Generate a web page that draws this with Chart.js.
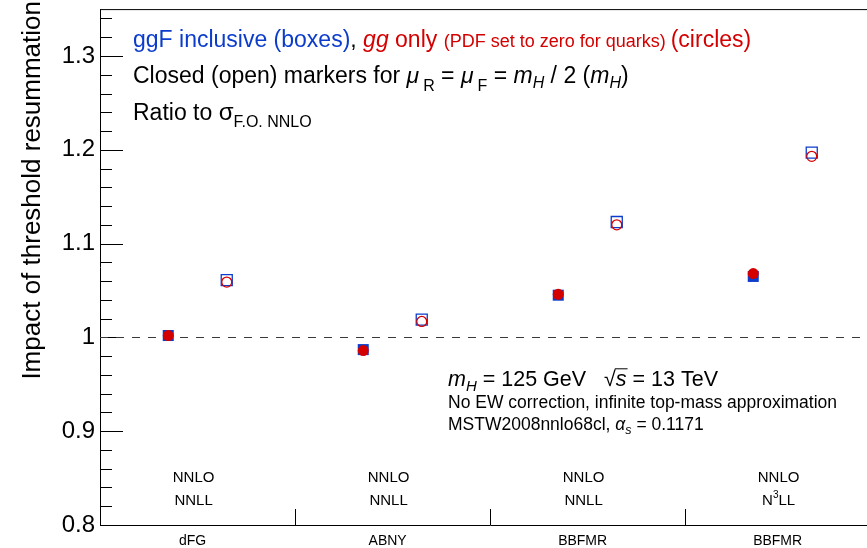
<!DOCTYPE html>
<html lang="en">
<head>
<meta charset="UTF-8">
<title>Impact of threshold resummation</title>
<style>
  body { margin: 0; background: #fff; overflow: hidden; }
  #wrap { width: 890px; height: 548px; }
</style>
<script src="https://cdn.jsdelivr.net/npm/chart.js"></script>
</head>
<body>
<div id="wrap"><canvas id="chart"></canvas></div>
<script>
// categories along x, with the fixed-order / resummation labels under each one
const categories = ['dFG', 'ABNY', 'BBFMR', 'BBFMR'];
const orderLabels = ['NNLO', 'NNLO', 'NNLO', 'NNLO'];
const resumLabels = ['NNLL', 'NNLL', 'NNLL', 'N3LL'];

// ratios, closed markers: muR = muF = mH/2, open markers: mH
const ggfHalfMh = [1.002, 0.987, 1.045, 1.065];  // boxes, ggF inclusive
const ggHalfMh  = [1.002, 0.986, 1.046, 1.068];  // circles, gg only
const ggfMh     = [1.061, 1.019, 1.123, 1.197];
const ggMh      = [1.059, 1.017, 1.120, 1.193];

const yTicks = [0.8, 0.9, 1, 1.1, 1.2, 1.3];
const yMin = 0.8, yMax = 1.35, yMinorStep = 0.02;

const closedPos = 0.35, openPos = 0.65;
const labelShift = 0.025; // ROOT puts the bin labels a bit left of centre
const BLUE = '#0b3ccc', RED = '#d40000';
const FONT = '"Liberation Sans", Arial, Helvetica, sans-serif';

function pts(vals, off) {
    return vals.map((v, i) => ({ x: i + off, y: v }));
}

// draw a row of text pieces with different styles
function runs(ctx, x, y, parts) {
    for (const p of parts) {
        ctx.font = (p.i ? 'italic ' : '') + p.s + 'px ' + FONT;
        ctx.fillStyle = p.c || '#000';
        ctx.fillText(p.t, x, y + (p.dy || 0));
        const w = ctx.measureText(p.t).width;
        if (p.bar) {
            ctx.strokeStyle = p.c || '#000';
            ctx.lineWidth = 1;
            ctx.beginPath();
            ctx.moveTo(x - 1, y - p.s * 0.8);
            ctx.lineTo(x + w + 1, y - p.s * 0.8);
            ctx.stroke();
        }
        x += w + (p.gap || 0);
    }
    return x;
}

function runsWidth(ctx, parts) {
    let w = 0;
    for (const p of parts) {
        ctx.font = (p.i ? 'italic ' : '') + p.s + 'px ' + FONT;
        w += ctx.measureText(p.t).width + (p.gap || 0);
    }
    return w;
}

const decor = {
    id: 'decor',
    beforeDatasetsDraw(chart) {
        const { ctx, chartArea: a, scales: { x, y } } = chart;
        ctx.save();
        ctx.strokeStyle = '#000';
        ctx.lineWidth = 1;
        // top frame
        ctx.beginPath();
        ctx.moveTo(a.left, a.top + 0.5);
        ctx.lineTo(a.right, a.top + 0.5);
        ctx.stroke();
        // y ticks inside the frame
        ctx.beginPath();
        for (let v = yMin; v <= yMax + 1e-9; v += yMinorStep) {
            const py = Math.round(y.getPixelForValue(v)) + 0.5;
            const major = yTicks.some(t => Math.abs(t - v) < 1e-6);
            ctx.moveTo(a.left, py);
            ctx.lineTo(a.left + (major ? 23 : 12), py);
        }
        // separators between categories
        for (let i = 1; i < categories.length; i++) {
            const px = Math.round(x.getPixelForValue(i)) + 0.5;
            ctx.moveTo(px, a.bottom);
            ctx.lineTo(px, a.bottom - 16);
        }
        ctx.stroke();
        // dashed line at 1
        ctx.strokeStyle = '#3a3a3a';
        ctx.setLineDash([8, 8]);
        const p1 = Math.round(y.getPixelForValue(1)) + 0.5;
        ctx.beginPath();
        ctx.moveTo(a.left, p1);
        ctx.lineTo(a.right, p1);
        ctx.stroke();
        ctx.setLineDash([]);

        // labels under each category
        ctx.textAlign = 'left';
        ctx.textBaseline = 'alphabetic';
        categories.forEach((c, i) => {
            const cx = x.getPixelForValue(i + 0.5 - labelShift * 0.8);
            const top = [{ t: orderLabels[i], s: 15 }];
            const bot = resumLabels[i] === 'N3LL'
                ? [{ t: 'N', s: 15 }, { t: '3', s: 10, dy: -7 }, { t: 'LL', s: 15 }]
                : [{ t: resumLabels[i], s: 15 }];
            runs(ctx, cx - runsWidth(ctx, top) / 2, 482, top);
            runs(ctx, cx - runsWidth(ctx, bot) / 2, 505, bot);
        });

        // header text
        runs(ctx, 133, 47, [
            { t: 'ggF inclusive (boxes)', s: 23, c: BLUE },
            { t: ', ', s: 23 },
            { t: 'gg', s: 23, i: true, c: RED },
            { t: ' only ', s: 23, c: RED },
            { t: '(PDF set to zero for quarks) ', s: 18, c: RED },
            { t: '(circles)', s: 23, c: RED }
        ]);
        runs(ctx, 133, 83, [
            { t: 'Closed (open) markers for ', s: 23 },
            { t: 'μ', s: 23, i: true, gap: 4 },
            { t: 'R', s: 16, dy: 8 },
            { t: ' = ', s: 23 },
            { t: 'μ', s: 23, i: true, gap: 4 },
            { t: 'F', s: 16, dy: 8 },
            { t: ' = ', s: 23 },
            { t: 'm', s: 23, i: true },
            { t: 'H', s: 16, i: true, dy: 5 },
            { t: ' / 2 (', s: 23 },
            { t: 'm', s: 23, i: true },
            { t: 'H', s: 16, i: true, dy: 5 },
            { t: ')', s: 23 }
        ]);
        runs(ctx, 133, 120, [
            { t: 'Ratio to ', s: 23 },
            { t: 'σ', s: 24 },
            { t: 'F.O. NNLO', s: 16, dy: 7 }
        ]);

        // info box
        runs(ctx, 448, 386, [
            { t: 'm', s: 21.5, i: true },
            { t: 'H', s: 15, i: true, dy: 5 },
            { t: ' = 125 GeV   ', s: 21.5 },
            { t: '√', s: 21.5 },
            { t: 's', s: 21.5, i: true, bar: true },
            { t: ' = 13 TeV', s: 21.5 }
        ]);
        runs(ctx, 448, 408, [{ t: 'No EW correction, infinite top-mass approximation', s: 17.5 }]);
        runs(ctx, 448, 430, [
            { t: 'MSTW2008nnlo68cl, ', s: 17.5 },
            { t: 'α', s: 17.5, i: true },
            { t: 's', s: 12.5, i: true, dy: 4 },
            { t: ' = 0.1171', s: 17.5 }
        ]);

        // y title
        ctx.save();
        ctx.translate(33, 1);
        ctx.rotate(-Math.PI / 2);
        ctx.textAlign = 'right';
        ctx.textBaseline = 'middle';
        ctx.font = '26px ' + FONT;
        ctx.fillStyle = '#000';
        ctx.fillText('Impact of threshold resummation', 0, 0);
        ctx.restore();

        ctx.restore();
    }
};

new Chart(document.getElementById('chart'), {
    type: 'scatter',
    data: {
        datasets: [
            { label: 'gg, mH/2', data: pts(ggHalfMh, closedPos), order: 1,
              pointStyle: 'circle', pointRadius: 5.5, backgroundColor: RED, borderColor: RED, borderWidth: 0 },
            { label: 'gg, mH', data: pts(ggMh, openPos), order: 1,
              pointStyle: 'circle', pointRadius: 5, backgroundColor: 'rgba(0,0,0,0)', borderColor: RED, borderWidth: 1.3 },
            { label: 'ggF, mH/2', data: pts(ggfHalfMh, closedPos), order: 2,
              pointStyle: 'rect', pointRadius: 7.8, backgroundColor: BLUE, borderColor: BLUE, borderWidth: 0 },
            { label: 'ggF, mH', data: pts(ggfMh, openPos), order: 2,
              pointStyle: 'rect', pointRadius: 7.8, backgroundColor: 'rgba(0,0,0,0)', borderColor: BLUE, borderWidth: 1.3 }
        ]
    },
    options: {
        responsive: true,
        maintainAspectRatio: false,
        animation: false,
        layout: { padding: { top: 8, right: 10, left: 0, bottom: 0 } },
        plugins: { legend: { display: false }, tooltip: { enabled: false } },
        scales: {
            x: {
                type: 'linear', min: 0, max: categories.length,
                afterBuildTicks: s => { s.ticks = categories.map((c, i) => ({ value: i + 0.5 - labelShift })); },
                afterFit: s => { s.height = 23; s.paddingLeft = 0; s.paddingRight = 0; },
                ticks: {
                    callback: (v, i) => categories[i],
                    autoSkip: false, maxRotation: 0, padding: 8,
                    color: '#000', font: { family: FONT, size: 14 }
                },
                grid: { display: false, drawTicks: false },
                border: { display: true, color: '#000', width: 1 }
            },
            y: {
                min: yMin, max: yMax,
                afterBuildTicks: s => { s.ticks = yTicks.map(v => ({ value: v })); },
                afterFit: s => { s.width = 100; s.paddingTop = 0; s.paddingBottom = 0; },
                ticks: {
                    callback: v => (v === 1 ? '1' : v.toFixed(1)),
                    padding: 5, color: '#000', font: { family: FONT, size: 24 }
                },
                grid: { display: false, drawTicks: false },
                border: { display: true, color: '#000', width: 1 }
            }
        }
    },
    plugins: [decor]
});
</script>
</body>
</html>
